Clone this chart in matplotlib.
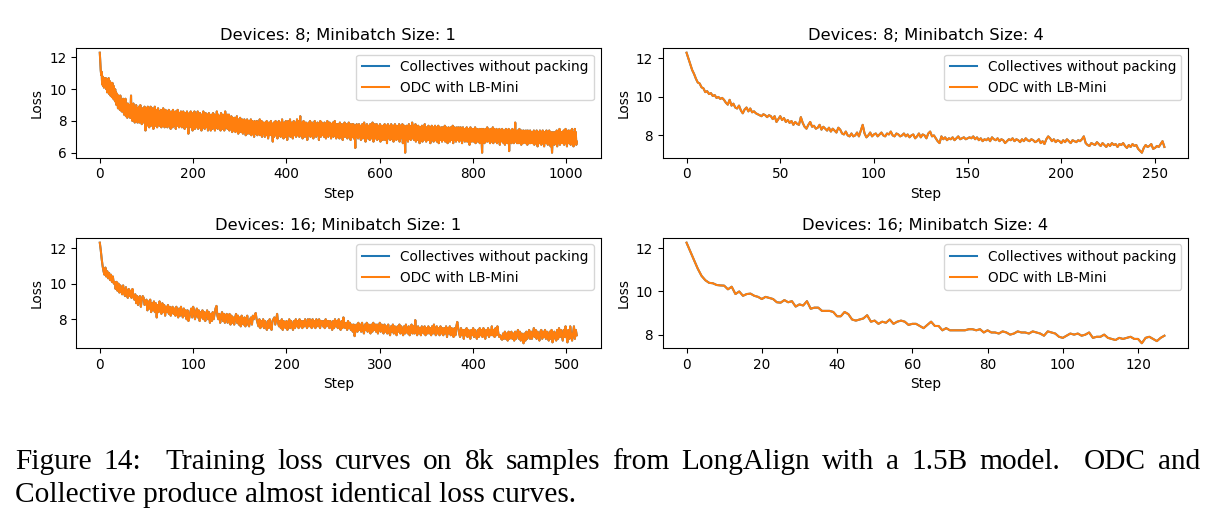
import numpy as np
import matplotlib
matplotlib.use("Agg")
import matplotlib.pyplot as plt

# loss per step (both runs overlap almost exactly)
loss_d8_mb1 = [
    12.3, 11.7, 11.2, 10.9, 11.1, 10.3, 10.8, 10.2, 10.6, 10.1, 10.7, 10.2, 10.5, 10.7, 10.0, 10.5,
    9.8, 10.6, 10.0, 10.7, 9.7, 10.3, 10.5, 9.6, 10.4, 9.9, 9.5, 10.4, 9.7, 9.4, 10.2, 9.6,
    9.3, 10.0, 9.2, 9.8, 9.0, 9.7, 9.4, 8.8, 9.6, 9.0, 9.5, 8.7, 9.6, 8.9, 9.3, 8.6,
    9.3, 8.6, 9.4, 8.8, 8.4, 9.2, 8.7, 9.4, 8.3, 9.0, 8.6, 8.2, 9.1, 8.5, 8.9, 8.3,
    9.0, 8.2, 8.8, 9.6, 8.2, 8.9, 8.0, 8.7, 9.1, 8.1, 8.6, 7.9, 8.9, 8.3, 9.0, 8.0,
    8.7, 7.9, 8.8, 8.2, 8.9, 7.9, 8.5, 9.0, 8.0, 8.7, 7.8, 8.8, 8.2, 7.9, 8.6, 8.1,
    8.9, 7.9, 7.4, 8.5, 8.8, 7.7, 8.6, 8.9, 7.8, 8.4, 7.6, 8.7, 7.9, 8.9, 7.7, 8.5,
    7.8, 8.8, 8.1, 7.5, 8.6, 7.9, 8.9, 7.7, 8.5, 7.8, 8.7, 7.6, 8.3, 8.8, 7.8, 8.6,
    7.7, 8.5, 8.0, 8.7, 7.6, 8.4, 8.6, 7.7, 8.8, 7.8, 8.5, 7.6, 8.4, 8.7, 7.7, 8.3,
    8.6, 7.6, 8.4, 7.9, 8.7, 7.7, 8.5, 8.0, 7.5, 8.6, 7.8, 8.4, 7.6, 8.7, 8.0, 7.7,
    8.5, 7.8, 8.6, 7.5, 8.4, 8.0, 7.7, 8.7, 7.8, 8.4, 7.6, 8.5, 8.0, 7.7, 8.6, 7.8,
    7.6, 8.4, 7.9, 8.6, 7.7, 8.3, 7.5, 8.5, 7.8, 8.4, 7.7, 8.6, 7.6, 8.3, 7.2, 8.1,
    8.5, 7.7, 8.3, 8.6, 7.6, 8.4, 7.8, 7.4, 8.5, 8.0, 7.7, 8.6, 7.5, 8.4, 7.9, 7.6,
    8.4, 7.7, 8.6, 7.5, 8.3, 7.9, 7.6, 8.5, 7.7, 8.3, 7.4, 8.4, 7.9, 7.6, 8.6, 7.7,
    8.3, 7.5, 8.1, 8.5, 7.6, 8.3, 7.7, 8.4, 7.4, 8.1, 8.5, 7.6, 8.3, 7.7, 7.4, 8.4,
    7.7, 8.3, 7.5, 8.5, 7.9, 7.6, 8.4, 7.4, 8.2, 8.3, 7.6, 8.6, 7.7, 7.5, 8.4, 7.9,
    7.6, 8.3, 7.8, 7.4, 8.5, 7.6, 8.2, 7.5, 8.4, 7.7, 8.3, 7.4, 8.1, 8.6, 7.6, 8.3,
    7.7, 8.4, 7.5, 8.2, 7.6, 8.4, 7.4, 8.1, 7.7, 7.5, 8.3, 7.6, 7.3, 8.2, 7.5, 8.0,
    7.4, 8.2, 7.6, 7.3, 8.1, 7.5, 8.3, 7.4, 8.0, 7.2, 8.1, 7.5, 7.3, 8.2, 7.4, 7.9,
    7.3, 8.1, 7.5, 7.2, 8.0, 7.4, 8.1, 7.3, 7.9, 7.1, 8.0, 7.4, 8.1, 7.2, 7.9, 7.3,
    8.0, 7.2, 7.9, 7.3, 8.1, 7.1, 7.8, 8.0, 7.2, 7.9, 7.3, 7.0, 8.0, 7.4, 7.2, 7.9,
    7.3, 8.0, 7.1, 7.8, 7.2, 7.9, 7.3, 8.1, 7.1, 7.8, 7.2, 8.0, 7.0, 7.8, 7.3, 7.9,
    7.2, 7.8, 7.0, 7.9, 7.3, 7.1, 8.0, 7.2, 7.8, 6.9, 7.7, 7.9, 7.1, 7.8, 7.2, 8.0,
    7.1, 7.8, 7.3, 6.7, 7.6, 7.9, 7.0, 7.8, 7.2, 8.0, 7.1, 7.7, 7.9, 6.9, 7.8, 7.2,
    8.0, 7.1, 7.7, 7.9, 7.0, 7.8, 7.2, 8.1, 7.1, 7.7, 6.9, 7.9, 7.2, 7.8, 7.0, 8.0,
    7.2, 7.8, 6.8, 7.7, 8.0, 7.1, 7.8, 7.2, 8.1, 7.0, 7.7, 7.9, 7.1, 7.8, 6.9, 7.7,
    8.0, 7.1, 7.8, 7.2, 7.9, 7.0, 7.7, 8.1, 7.1, 7.8, 7.2, 8.0, 7.0, 7.8, 8.3, 7.2,
    7.8, 7.1, 7.9, 6.9, 7.7, 8.0, 7.2, 7.8, 7.0, 7.7, 7.9, 7.1, 7.8, 6.8, 7.7, 7.2,
    7.9, 7.1, 7.7, 8.0, 7.0, 7.8, 7.2, 7.9, 7.1, 7.7, 6.9, 7.8, 7.2, 8.0, 7.1, 7.7,
    7.0, 7.8, 7.2, 7.9, 7.1, 7.7, 6.8, 7.8, 7.2, 8.0, 7.0, 7.7, 7.9, 7.1, 7.8, 7.2,
    7.7, 7.0, 7.9, 7.2, 7.8, 6.9, 7.7, 7.1, 8.0, 7.2, 7.0, 7.8, 7.2, 7.9, 7.1, 7.7,
    6.9, 7.8, 7.1, 7.7, 7.9, 7.0, 7.7, 7.2, 8.0, 7.1, 7.7, 6.9, 7.8, 7.2, 7.0, 7.8,
    7.1, 7.7, 6.9, 7.9, 7.2, 7.0, 7.8, 7.1, 7.7, 6.8, 7.8, 7.2, 7.0, 7.9, 7.1, 7.7,
    7.0, 7.8, 7.2, 6.9, 7.7, 7.1, 7.9, 7.0, 7.6, 7.8, 6.8, 7.7, 7.1, 7.8, 7.0, 7.6,
    7.8, 6.9, 7.6, 7.1, 6.3, 7.7, 7.0, 7.8, 7.1, 7.7, 6.9, 7.6, 7.8, 7.0, 7.7, 7.1,
    6.8, 7.7, 7.1, 7.8, 6.9, 7.6, 7.0, 7.9, 7.1, 7.7, 6.7, 7.6, 7.0, 7.8, 7.1, 6.9,
    7.7, 7.0, 7.6, 6.8, 7.8, 7.1, 6.9, 7.7, 7.0, 7.9, 7.1, 6.7, 7.6, 7.0, 7.8, 6.9,
    7.6, 7.1, 7.8, 6.8, 7.5, 7.7, 6.9, 7.6, 7.0, 7.8, 6.7, 7.5, 7.7, 7.0, 7.6, 6.8,
    7.7, 7.0, 7.5, 7.8, 6.8, 7.6, 7.0, 7.7, 6.6, 7.5, 7.8, 6.9, 7.6, 7.0, 7.7, 6.8,
    7.5, 7.8, 6.9, 7.6, 7.0, 7.7, 6.7, 7.5, 6.9, 7.8, 7.0, 7.6, 6.8, 7.7, 7.1, 6.9,
    7.6, 7.0, 7.8, 6.7, 7.5, 7.7, 6.9, 7.6, 7.0, 7.8, 6.6, 7.5, 6.9, 7.7, 7.0, 6.0,
    7.5, 6.8, 7.7, 7.0, 7.6, 6.7, 7.5, 7.8, 6.9, 7.6, 7.0, 6.8, 7.7, 7.1, 7.9, 6.9,
    7.5, 7.7, 6.8, 7.5, 6.9, 7.8, 6.7, 7.4, 7.6, 6.8, 7.5, 7.7, 6.9, 7.6, 6.6, 7.4,
    7.6, 6.9, 7.5, 7.7, 6.7, 7.4, 7.6, 6.8, 7.5, 7.8, 6.9, 7.5, 6.7, 7.6, 7.0, 6.8,
    7.5, 7.7, 6.8, 7.4, 7.6, 6.6, 7.5, 6.9, 7.7, 6.8, 7.4, 7.6, 6.7, 7.5, 6.9, 7.7,
    6.8, 7.4, 7.6, 6.7, 7.5, 6.9, 7.7, 6.6, 7.4, 7.6, 6.8, 7.5, 6.9, 7.6, 6.7, 7.4,
    7.6, 6.8, 7.5, 6.9, 7.7, 6.7, 7.4, 7.6, 6.8, 7.5, 6.6, 7.4, 7.6, 6.9, 7.5, 6.7,
    7.4, 7.6, 6.8, 7.5, 6.9, 7.7, 6.6, 7.4, 6.8, 7.6, 6.9, 7.5, 6.7, 7.4, 7.6, 6.8,
    7.5, 6.9, 7.6, 6.7, 7.4, 6.8, 7.6, 6.9, 7.5, 6.6, 7.4, 7.6, 6.8, 7.5, 6.9, 6.7,
    7.5, 6.8, 7.4, 7.6, 6.7, 7.4, 6.8, 7.5, 6.9, 6.5, 7.4, 7.6, 6.8, 7.4, 6.7, 7.5,
    6.9, 7.5, 6.7, 7.4, 6.8, 7.6, 6.6, 7.4, 6.8, 7.5, 6.9, 6.7, 7.4, 6.8, 7.5, 6.6,
    7.4, 6.8, 7.5, 6.7, 6.0, 7.3, 7.5, 6.8, 7.4, 6.6, 7.3, 7.5, 6.7, 7.4, 6.8, 7.6,
    6.7, 7.3, 7.5, 6.8, 7.4, 6.6, 7.3, 7.5, 6.7, 7.4, 6.8, 7.6, 6.6, 7.3, 7.5, 6.8,
    7.4, 6.7, 7.3, 7.5, 6.6, 7.3, 6.7, 7.4, 6.8, 7.5, 6.5, 7.3, 6.7, 7.4, 6.8, 7.5,
    6.7, 7.3, 6.6, 7.4, 6.8, 6.5, 7.3, 7.5, 6.7, 7.3, 6.6, 7.4, 6.8, 7.5, 6.1, 7.3,
    6.7, 7.4, 6.8, 6.6, 7.3, 7.5, 6.7, 7.3, 6.6, 7.4, 6.8, 7.9, 6.7, 7.3, 6.8, 6.6,
    7.4, 6.7, 7.3, 6.6, 7.5, 6.7, 7.3, 6.8, 6.5, 7.4, 6.7, 7.3, 6.6, 7.4, 6.8, 6.7,
    7.3, 6.6, 7.4, 6.7, 7.2, 6.5, 7.4, 6.7, 7.3, 6.6, 7.2, 7.4, 6.6, 7.2, 6.7, 7.3,
    6.6, 7.3, 6.7, 7.4, 6.5, 7.2, 6.7, 7.3, 6.6, 7.4, 6.7, 6.4, 7.3, 6.7, 7.2, 6.6,
    7.4, 6.7, 7.2, 6.5, 7.3, 6.7, 7.4, 6.6, 7.2, 6.4, 7.3, 6.7, 7.2, 6.6, 7.4, 6.7,
    7.2, 6.5, 7.3, 6.7, 7.4, 6.6, 7.2, 6.4, 7.3, 6.7, 6.0, 6.6, 7.3, 6.7, 7.2, 6.5,
    7.3, 6.6, 7.2, 6.7, 7.4, 6.4, 7.2, 6.6, 7.3, 6.7, 7.5, 6.5, 7.2, 6.6, 7.3, 6.7,
    6.6, 7.3, 6.7, 7.4, 6.5, 7.2, 6.7, 7.5, 6.6, 7.2, 6.4, 7.3, 6.7, 7.4, 6.6, 7.2,
    6.7, 7.4, 6.5, 7.2, 6.6, 7.5, 6.7, 7.3, 6.4, 7.2, 6.6, 7.5, 6.7, 7.3, 6.5, 6.7,
]

loss_d8_mb4 = [
    12.30, 12.00, 11.70, 11.40, 11.20, 10.95, 10.75, 10.70, 10.50, 10.45, 10.25, 10.30, 10.15, 10.20, 10.05, 10.10,
    9.95, 10.00, 9.90, 9.95, 9.85, 9.70, 9.60, 9.85, 9.55, 9.65, 9.45, 9.40, 9.55, 9.30, 9.15, 9.35,
    9.45, 9.25, 9.40, 9.20, 9.25, 9.15, 9.10, 9.05, 9.00, 9.10, 9.05, 8.95, 9.05, 9.00, 8.85, 9.00,
    8.70, 8.85, 9.00, 8.80, 8.90, 8.70, 8.80, 8.65, 8.75, 8.55, 8.70, 8.60, 8.55, 8.95, 8.65, 8.45,
    8.35, 8.55, 8.70, 8.45, 8.50, 8.35, 8.40, 8.55, 8.30, 8.45, 8.35, 8.25, 8.40, 8.20, 8.35, 8.25,
    8.15, 8.40, 8.30, 8.10, 8.05, 8.20, 8.00, 7.95, 8.10, 7.95, 8.00, 8.15, 7.95, 8.25, 8.55, 8.10,
    7.90, 8.00, 8.15, 7.95, 8.05, 8.10, 7.95, 8.05, 8.15, 8.00, 7.95, 8.10, 8.05, 8.20, 8.00, 7.95,
    8.10, 8.05, 7.95, 8.00, 8.10, 7.95, 8.05, 7.90, 8.00, 8.05, 7.85, 7.95, 8.10, 7.90, 8.05, 8.00,
    7.85, 8.10, 8.20, 7.95, 8.00, 7.85, 7.70, 7.60, 7.95, 7.80, 7.90, 7.75, 7.85, 7.80, 7.90, 7.75,
    7.85, 7.95, 7.80, 7.85, 7.90, 7.80, 7.85, 7.90, 7.85, 7.95, 7.80, 7.90, 7.75, 7.85, 7.70, 7.80,
    7.75, 7.85, 7.70, 7.90, 7.80, 7.75, 7.85, 7.70, 7.80, 7.75, 7.60, 7.70, 7.80, 7.75, 7.85, 7.70,
    7.80, 7.75, 7.65, 7.80, 7.70, 7.85, 7.75, 7.70, 7.80, 7.75, 7.65, 7.70, 7.80, 7.60, 7.70, 7.55,
    7.80, 7.95, 7.85, 7.70, 7.80, 7.65, 7.75, 7.70, 7.60, 7.75, 7.65, 7.80, 7.70, 7.60, 7.75, 7.70,
    7.65, 7.75, 7.70, 7.80, 7.95, 7.60, 7.50, 7.45, 7.60, 7.55, 7.50, 7.65, 7.55, 7.45, 7.60, 7.50,
    7.40, 7.55, 7.45, 7.60, 7.50, 7.55, 7.40, 7.55, 7.50, 7.60, 7.45, 7.35, 7.50, 7.40, 7.55, 7.45,
    7.50, 7.30, 7.20, 7.10, 7.35, 7.50, 7.40, 7.45, 7.55, 7.30, 7.35, 7.45, 7.40, 7.55, 7.70, 7.40,
]

loss_d16_mb1 = [
    12.3, 11.9, 11.4, 11.0, 10.7, 10.5, 10.9, 10.4, 10.7, 10.3, 10.6, 10.2, 10.5, 10.1, 10.4, 10.0,
    10.1, 9.7, 10.1, 9.6, 10.0, 9.5, 9.9, 9.6, 9.4, 9.9, 9.5, 9.3, 9.8, 9.4, 9.2, 9.7,
    9.3, 9.6, 9.2, 9.7, 9.3, 9.1, 9.4, 8.9, 9.3, 8.8, 9.2, 9.3, 8.7, 9.1, 9.3, 9.2,
    8.8, 8.9, 9.1, 8.5, 9.0, 8.6, 9.1, 8.4, 8.9, 8.5, 9.0, 8.4, 8.9, 8.1, 8.8, 8.4,
    9.0, 8.5, 8.3, 8.9, 8.4, 8.8, 8.2, 8.7, 8.4, 8.8, 8.3, 8.7, 8.2, 8.6, 8.7, 8.3,
    8.6, 8.2, 8.7, 8.3, 8.1, 8.6, 8.2, 8.7, 8.3, 8.1, 8.6, 8.2, 8.5, 8.0, 8.5, 7.9,
    8.1, 8.4, 8.6, 8.1, 8.7, 8.5, 8.0, 8.4, 8.6, 8.1, 8.5, 7.9, 8.4, 8.1, 8.5, 8.0,
    8.4, 7.9, 8.3, 8.5, 8.0, 8.4, 7.8, 8.3, 7.9, 8.4, 8.0, 8.3, 8.6, 8.75, 8.2, 8.0,
    8.3, 7.8, 8.2, 8.4, 7.9, 8.3, 7.8, 8.2, 8.3, 7.8, 8.1, 8.3, 7.7, 8.2, 7.8, 8.1,
    7.7, 8.1, 8.3, 7.8, 8.2, 7.7, 8.1, 7.6, 8.2, 7.8, 7.7, 8.1, 7.6, 8.0, 8.2, 7.7,
    7.6, 8.0, 8.1, 7.7, 8.2, 8.0, 8.2, 8.35, 8.0, 7.8, 7.6, 8.0, 7.5, 7.9, 7.6, 8.0,
    7.5, 7.9, 7.6, 7.4, 7.9, 7.5, 8.0, 7.6, 7.4, 7.9, 8.0, 8.1, 7.7, 8.0, 8.3, 7.8,
    7.6, 7.9, 7.5, 8.0, 7.4, 7.9, 7.6, 7.5, 7.9, 7.4, 7.8, 8.0, 7.5, 7.9, 7.6, 7.4,
    7.9, 7.5, 8.0, 7.6, 7.9, 7.5, 8.0, 7.6, 7.9, 7.5, 7.9, 7.6, 8.0, 7.7, 7.5, 8.0,
    7.6, 8.0, 7.7, 7.5, 8.0, 7.6, 7.9, 7.5, 8.0, 7.7, 7.6, 8.0, 7.5, 7.9, 7.9, 7.6,
    7.9, 7.5, 8.0, 7.6, 7.9, 7.9, 7.5, 7.9, 7.6, 7.4, 7.9, 7.5, 8.0, 7.6, 7.9, 7.5,
    8.0, 7.6, 7.4, 7.9, 7.5, 8.1, 7.7, 7.5, 7.8, 7.4, 7.9, 7.5, 7.8, 7.4, 7.7, 7.3,
    7.7, 7.05, 7.4, 7.7, 7.3, 7.8, 7.4, 7.7, 7.3, 7.8, 7.4, 7.2, 7.7, 7.4, 7.8, 7.3,
    7.7, 7.4, 7.2, 7.7, 7.3, 7.8, 7.4, 7.7, 7.3, 7.7, 7.2, 7.6, 7.8, 7.3, 7.7, 7.4,
    7.2, 7.7, 7.3, 7.6, 7.2, 7.7, 7.3, 7.1, 7.6, 7.3, 7.7, 7.2, 7.6, 7.3, 7.1, 7.6,
    7.3, 7.7, 7.2, 7.6, 7.3, 7.1, 7.6, 7.2, 7.7, 7.3, 7.2, 7.6, 7.1, 7.5, 7.7, 7.2,
    7.6, 7.2, 7.95, 7.3, 7.1, 7.6, 7.2, 7.5, 7.1, 7.6, 7.3, 7.2, 7.6, 7.1, 7.5, 7.2,
    7.6, 7.2, 7.5, 7.1, 7.6, 7.2, 7.7, 7.3, 7.1, 7.6, 7.2, 7.5, 7.1, 7.6, 7.2, 7.5,
    7.1, 7.5, 7.2, 7.6, 7.0, 7.5, 7.2, 7.6, 7.1, 7.5, 7.2, 7.0, 7.5, 7.1, 7.6, 7.85,
    7.5, 7.2, 7.0, 7.5, 7.1, 7.4, 6.9, 7.4, 7.1, 7.5, 7.0, 7.4, 7.1, 6.9, 7.4, 7.1,
    7.5, 7.0, 7.4, 7.1, 6.9, 7.4, 7.0, 7.5, 7.1, 7.4, 7.0, 7.5, 7.1, 6.9, 7.4, 7.1,
    7.5, 7.0, 7.4, 7.1, 7.6, 7.1, 7.4, 7.0, 7.5, 7.1, 7.6, 7.2, 7.0, 7.1, 6.9, 6.85,
    7.2, 6.9, 7.3, 6.9, 7.2, 6.8, 7.3, 6.9, 7.2, 7.3, 6.9, 7.2, 6.8, 7.3, 6.9, 7.2,
    7.4, 6.9, 7.3, 6.8, 7.2, 6.9, 6.65, 7.2, 6.8, 7.3, 6.9, 7.2, 7.4, 6.9, 7.3, 6.9,
    7.2, 7.5, 7.0, 7.4, 6.9, 7.3, 7.0, 6.8, 7.3, 7.4, 6.9, 7.3, 7.0, 7.4, 6.9, 7.3,
    7.0, 6.8, 7.3, 6.9, 7.4, 6.7, 6.9, 7.3, 7.0, 6.8, 7.4, 6.9, 7.5, 7.0, 7.4, 7.1,
    6.8, 7.4, 7.0, 7.6, 7.1, 6.7, 7.4, 6.9, 7.6, 7.1, 6.8, 7.2, 7.6, 6.9, 7.4, 7.1,
]

loss_d16_mb4 = [
    12.26, 11.85, 11.45, 11.05, 10.72, 10.52, 10.40, 10.38, 10.30, 10.28, 10.27, 10.10, 10.22, 9.88, 10.00, 9.80,
    9.88, 9.90, 9.80, 9.75, 9.65, 9.75, 9.70, 9.65, 9.50, 9.48, 9.60, 9.50, 9.55, 9.30, 9.40, 9.35,
    9.55, 9.20, 9.25, 9.25, 9.10, 9.10, 9.10, 9.05, 8.85, 8.85, 9.05, 8.95, 8.70, 8.65, 8.70, 8.75,
    8.90, 8.60, 8.65, 8.50, 8.60, 8.55, 8.70, 8.50, 8.60, 8.65, 8.60, 8.45, 8.50, 8.50, 8.40, 8.30,
    8.45, 8.60, 8.40, 8.40, 8.20, 8.30, 8.20, 8.20, 8.20, 8.20, 8.20, 8.25, 8.25, 8.20, 8.25, 8.10,
    8.20, 8.10, 8.10, 8.05, 8.15, 8.10, 8.00, 8.05, 8.15, 8.10, 8.10, 8.05, 8.15, 8.10, 8.05, 7.95,
    8.15, 8.10, 8.05, 7.90, 7.85, 7.95, 8.05, 8.00, 8.05, 7.95, 8.00, 8.10, 7.85, 7.90, 7.90, 8.00,
    7.85, 7.80, 7.75, 7.85, 7.80, 7.85, 7.90, 7.80, 7.80, 7.60, 7.85, 7.90, 7.80, 7.70, 7.85, 7.95,
]

panels = [
    ("Devices: 8; Minibatch Size: 1", loss_d8_mb1),
    ("Devices: 8; Minibatch Size: 4", loss_d8_mb4),
    ("Devices: 16; Minibatch Size: 1", loss_d16_mb1),
    ("Devices: 16; Minibatch Size: 4", loss_d16_mb4),
]

caption_line1 = ("Figure 14: Training loss curves on 8k samples from LongAlign "
                 "with a 1.5B model. ODC and").split()
caption_line2 = "Collective produce almost identical loss curves."

# axes boxes in figure fractions (left, bottom, width, height)
boxes = [
    (0.0623, 0.6996, 0.4304, 0.2095),
    (0.5436, 0.6996, 0.4312, 0.2095),
    (0.0623, 0.3366, 0.4304, 0.2107),
    (0.5436, 0.3366, 0.4312, 0.2107),
]

W, H = 1219, 525
dpi = 98
fig = plt.figure(figsize=(W / dpi, H / dpi), dpi=dpi)

for (title, loss), box in zip(panels, boxes):
    ax = fig.add_axes(box)
    steps = np.arange(len(loss))
    ax.plot(steps, loss, color="tab:blue", label="Collectives without packing")
    ax.plot(steps, loss, color="tab:orange", label="ODC with LB-Mini")
    ax.set_title(title)
    ax.set_xlabel("Step")
    ax.set_ylabel("Loss")
    ax.legend(loc="upper right")

# caption, first line justified between the page margins
cap_font = dict(family="Liberation Serif", fontsize=21.6, va="baseline", ha="left")
renderer = fig.canvas.get_renderer()
x0, x1 = 15, 1200
y1 = 1 - 469 / H
texts = [fig.text(0, y1, w, **cap_font) for w in caption_line1]
widths = [t.get_window_extent(renderer).width for t in texts]
weights = [2.0 if w.endswith((":", ".")) else 1.0 for w in caption_line1[:-1]] + [0.0]
gap = (x1 - x0 - sum(widths)) / sum(weights)
x = x0
for t, w, wt in zip(texts, widths, weights):
    t.set_x(x / W)
    x += w + gap * wt

fig.text(x0 / W, 1 - 501.7 / H, caption_line2, **cap_font)

fig.savefig("out.png", dpi=dpi)
